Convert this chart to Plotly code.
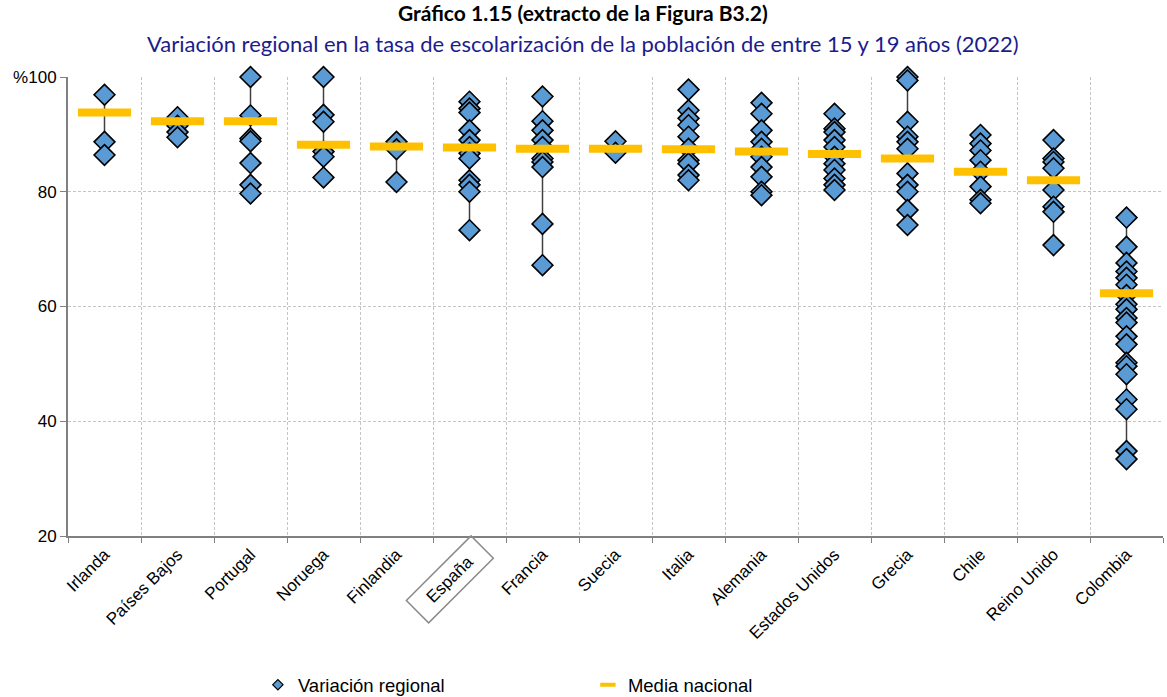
import plotly.graph_objects as go

# Countries, ordered by national mean
countries = [
    "Irlanda", "Países Bajos", "Portugal", "Noruega", "Finlandia", "España",
    "Francia", "Suecia", "Italia", "Alemania", "Estados Unidos", "Grecia",
    "Chile", "Reino Unido", "Colombia",
]

# Regional enrolment rates (%)
irlanda = [96.9, 88.7, 86.4]
paises_bajos = [93.0, 91.5, 90.4, 89.5]
portugal = [100.0, 93.3, 89.3, 88.8, 85.0, 81.2, 79.7]
noruega = [100.0, 93.4, 92.2, 87.0, 86.1, 82.5]
finlandia = [88.7, 87.4, 81.7]
espana = [95.7, 94.5, 93.8, 90.7, 89.0, 87.8, 86.7, 85.8, 82.0, 81.2, 80.0, 73.3]
francia = [96.6, 92.3, 90.7, 89.0, 87.8, 85.8, 85.2, 84.3, 74.4, 67.2]
suecia = [88.8, 86.8]
italia = [97.8, 94.2, 92.8, 91.6, 89.6, 87.5, 85.5, 84.9, 82.9, 82.0]
alemania = [95.5, 93.6, 90.7, 88.7, 87.5, 86.1, 84.3, 82.6, 80.0, 79.4]
estados_unidos = [93.6, 91.0, 90.4, 89.0, 87.8, 86.1, 84.9, 83.8, 82.3, 81.2, 80.3]
grecia = [100.0, 99.4, 92.2, 89.6, 88.7, 87.5, 83.2, 81.2, 80.0, 76.8, 74.2]
chile = [89.9, 88.4, 87.2, 85.5, 83.5, 80.9, 78.6, 78.0]
reino_unido = [89.0, 85.8, 85.2, 84.1, 80.3, 77.4, 76.5, 70.7]
colombia = [75.5, 70.4, 67.6, 66.1, 65.0, 63.8, 62.0, 60.4, 59.5, 58.0, 57.2,
            54.8, 53.4, 50.2, 49.6, 48.2, 43.8, 42.1, 34.8, 33.4]

# National means (%)
media_nacional = [93.8, 92.3, 92.3, 88.2, 87.9, 87.7, 87.5, 87.5, 87.4, 87.0,
                  86.6, 85.8, 83.5, 82.0, 62.3]

y_ticks = [20, 40, 60, 80, 100]
y_tick_labels = ["20", "40", "60", "80", "%100"]

regional = [irlanda, paises_bajos, portugal, noruega, finlandia, espana, francia,
            suecia, italia, alemania, estados_unidos, grecia, chile, reino_unido,
            colombia]

BLUE = "#5B9BD5"
GOLD = "#FFC000"

# min-max range lines
line_x, line_y = [], []
for c, vals in zip(countries, regional):
    line_x += [c, c, None]
    line_y += [min(vals), max(vals), None]

pts_x, pts_y = [], []
for c, vals in zip(countries, regional):
    pts_x += [c] * len(vals)
    pts_y += vals

fig = go.Figure()
fig.add_trace(go.Scatter(
    x=line_x, y=line_y, mode="lines",
    line=dict(color="#404040", width=1.5),
    showlegend=False, hoverinfo="skip", cliponaxis=False,
))
fig.add_trace(go.Scatter(
    x=pts_x, y=pts_y, mode="markers", name="Variación regional",
    marker=dict(symbol="diamond", size=16, color=BLUE,
                line=dict(color="black", width=1.6)),
    showlegend=False, cliponaxis=False,
))
fig.add_trace(go.Scatter(
    x=countries, y=media_nacional, mode="markers", name="Media nacional",
    marker=dict(symbol="line-ew", size=38, line=dict(color=GOLD, width=8)),
    showlegend=False, cliponaxis=False,
))
# legend entries with the small symbols of the original key
fig.add_trace(go.Scatter(
    x=[None], y=[None], mode="markers", name="Variación regional",
    marker=dict(symbol="diamond", size=8, color=BLUE,
                line=dict(color="black", width=1.2)),
))
fig.add_trace(go.Scatter(
    x=[None], y=[None], mode="markers", name="Media nacional",
    marker=dict(symbol="line-ew", size=11, line=dict(color=GOLD, width=4)),
))

tick_text = ["" if c == "España" else c for c in countries]

fig.update_layout(
    width=1167, height=697,
    margin=dict(l=68, r=4, t=77, b=161),
    plot_bgcolor="white", paper_bgcolor="white",
    font=dict(family="Liberation Sans, Arial", size=17, color="black"),
    xaxis=dict(
        type="category", categoryorder="array", categoryarray=countries,
        tickmode="array", tickvals=countries, ticktext=tick_text,
        tickson="boundaries", tickangle=-45,
        showgrid=True, gridcolor="#C4C4C4", griddash="3px,2px", gridwidth=1,
        showline=True, linecolor="#808080", linewidth=2,
        ticks="outside", ticklen=5, tickcolor="#808080",
        range=[-0.5, len(countries) - 0.5],
    ),
    yaxis=dict(
        range=[20, 100], tickmode="array", tickvals=y_ticks, ticktext=y_tick_labels,
        showgrid=True, gridcolor="#C4C4C4", griddash="3px,2px", gridwidth=1,
        showline=True, linecolor="#808080", linewidth=2,
        ticks="outside", ticklen=6, tickcolor="#808080",
        zeroline=False,
    ),
    legend=dict(
        orientation="h", xref="container", yref="container",
        x=0.221, y=0.017, xanchor="left", yanchor="middle",
        entrywidth=285, entrywidthmode="pixels",
        itemwidth=30, font=dict(size=18.5), bgcolor="rgba(0,0,0,0)",
    ),
    annotations=[
        dict(text="<b>Gráfico 1.15 (extracto de la Figura B3.2)</b>",
             xref="paper", yref="paper", x=0.4703, y=1.1416,
             xanchor="center", yanchor="middle", showarrow=False,
             font=dict(family="Lato", size=21, color="black")),
        dict(text="Variación regional en la tasa de escolarización de la población de entre 15 y 19 años (2022)",
             xref="paper", yref="paper", x=0.4703, y=1.074,
             xanchor="center", yanchor="middle", showarrow=False,
             font=dict(family="Lato", size=22, color="#1C1C8C")),
        dict(text="España", xref="x", yref="paper", x="España", y=0,
             xshift=-20, yshift=-43, xanchor="center", yanchor="middle",
             textangle=-45, showarrow=False, width=76, height=16,
             borderpad=7, bordercolor="#8C8C8C", borderwidth=1.5,
             font=dict(size=17, color="black")),
    ],
)

# the page body has a default 8px margin; remove it so the figure fills the window
fig.write_html("out.html", config={"displayModeBar": False},
               post_script="document.body.style.margin = '0';")
